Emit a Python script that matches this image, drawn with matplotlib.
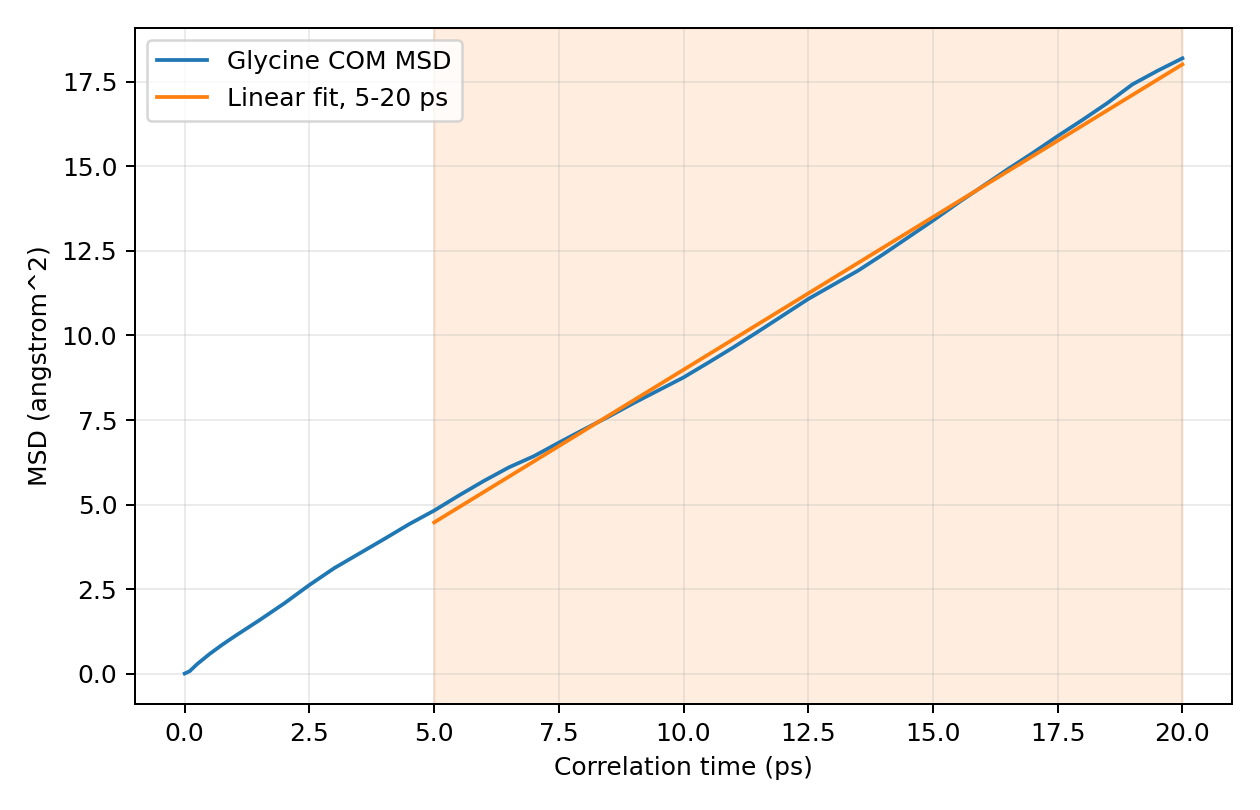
import numpy as np
import matplotlib
import matplotlib.pyplot as plt

matplotlib.use("agg")

# MSD of glycine centre of mass
time_ps = [0.0, 0.1, 0.25, 0.5, 0.75, 1.0, 1.5, 2.0, 2.5, 3.0, 3.5, 4.0, 4.5,
           5.0, 5.5, 6.0, 6.5, 7.0, 7.5, 8.0, 8.5, 9.0, 9.5, 10.0, 10.5, 11.0,
           11.5, 12.0, 12.5, 13.0, 13.5, 14.0, 14.5, 15.0, 15.5, 16.0, 16.5,
           17.0, 17.5, 18.0, 18.5, 19.0, 19.5, 20.0]
msd = [0.0, 0.07, 0.28, 0.58, 0.85, 1.10, 1.58, 2.08, 2.62, 3.12, 3.55, 3.98,
       4.42, 4.82, 5.27, 5.70, 6.10, 6.43, 6.83, 7.22, 7.60, 8.00, 8.38, 8.76,
       9.20, 9.65, 10.12, 10.60, 11.08, 11.50, 11.92, 12.40, 12.90, 13.40,
       13.92, 14.42, 14.92, 15.40, 15.90, 16.38, 16.88, 17.43, 17.83, 18.20]

# linear fit endpoints over the fit window
fit_t = [5.0, 20.0]
fit_msd = [4.47, 18.02]
fit_window = (5.0, 20.0)


def __main():
    fig, ax = plt.subplots(figsize=(7, 4.5), dpi=180)
    ax.plot(time_ps, msd, color="tab:blue", label="Glycine COM MSD")
    ax.plot(fit_t, fit_msd, color="tab:orange", label="Linear fit, 5-20 ps")
    ax.axvspan(fit_window[0], fit_window[1], color="tab:orange", alpha=0.125)
    ax.set_xlabel("Correlation time (ps)")
    ax.set_ylabel("MSD (angstrom^2)")
    ax.grid(alpha=0.25)
    ax.legend(loc="upper left")
    fig.subplots_adjust(left=0.107, right=0.978, top=0.966, bottom=0.1305)
    fig.savefig("out.png")


if __name__ == "__main__":
    __main()
